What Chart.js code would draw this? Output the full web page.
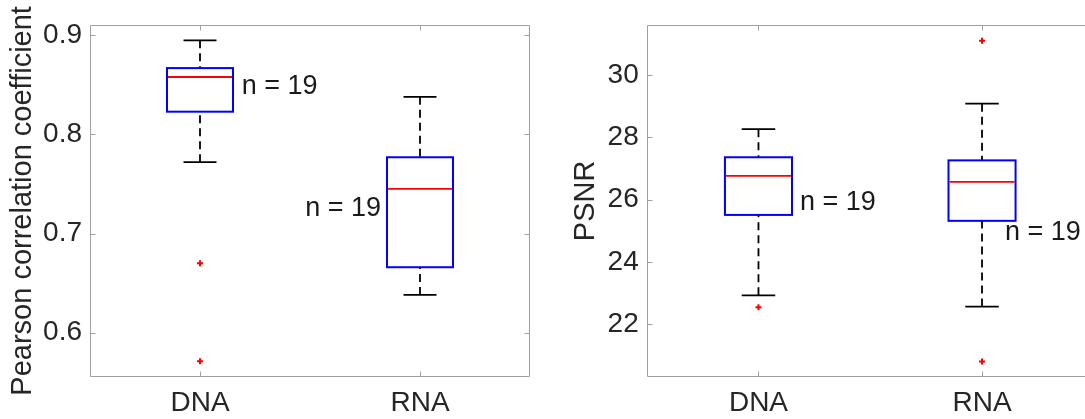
<!DOCTYPE html>
<html>
<head>
<meta charset="utf-8">
<script src="https://cdn.jsdelivr.net/npm/chart.js@4"></script>
<style>
  html, body { margin: 0; padding: 0; background: #fff; overflow: hidden; }
  #wrap { position: relative; width: 1085px; height: 419px; overflow: hidden; }
  canvas { position: absolute; top: 0; }
  #pearsonChart { left: 0; }
  #psnrChart { left: 540px; }
</style>
</head>
<body>
<div id="wrap">
  <canvas id="pearsonChart" width="540" height="419"></canvas>
  <canvas id="psnrChart" width="560" height="419"></canvas>
</div>
<script>
const groups = ["DNA", "RNA"];
const sampleCounts = [19, 19];

// Pearson correlation coefficient, per group
const pearsonLow = [0.772, 0.638];
const pearsonQ1 = [0.823, 0.666];
const pearsonMedian = [0.858, 0.745];
const pearsonQ3 = [0.867, 0.777];
const pearsonHigh = [0.895, 0.838];
const pearsonOutliers = [[0.670, 0.571], []];
const pearsonTicks = [0.6, 0.7, 0.8, 0.9];

// PSNR, per group
const psnrLow = [22.93, 22.57];
const psnrQ1 = [25.51, 25.32];
const psnrMedian = [26.76, 26.57];
const psnrQ3 = [27.36, 27.26];
const psnrHigh = [28.26, 29.08];
const psnrOutliers = [[22.55], [31.10, 20.81]];
const psnrTicks = [22, 24, 26, 28, 30];

const FONT = "'Liberation Sans', Arial, sans-serif";
const TEXT = "#262626";
const FRAME = "#a0a0a0";
const BOX_W = 0.3;
const CAP_W = 0.15;

const boxPlugin = {
  id: "boxes",
  beforeDatasetsDraw(chart, args, opts) {
    const { ctx } = chart;
    const xs = chart.scales.x, ys = chart.scales.y;
    ctx.save();
    opts.median.forEach((med, i) => {
      const pos = i + 1;
      const xc = xs.getPixelForValue(pos);
      const xl = xs.getPixelForValue(pos - BOX_W / 2);
      const xr = xs.getPixelForValue(pos + BOX_W / 2);
      const cl = xs.getPixelForValue(pos - CAP_W / 2);
      const cr = xs.getPixelForValue(pos + CAP_W / 2);
      const yLow = ys.getPixelForValue(opts.low[i]);
      const yQ1 = ys.getPixelForValue(opts.q1[i]);
      const yMed = ys.getPixelForValue(med);
      const yQ3 = ys.getPixelForValue(opts.q3[i]);
      const yHigh = ys.getPixelForValue(opts.high[i]);

      // dashed whiskers
      ctx.strokeStyle = "#000";
      ctx.lineWidth = 1.8;
      ctx.setLineDash([8, 5]);
      ctx.beginPath();
      ctx.moveTo(xc, yHigh); ctx.lineTo(xc, yQ3);
      ctx.moveTo(xc, yLow); ctx.lineTo(xc, yQ1);
      ctx.stroke();
      ctx.setLineDash([]);

      // whisker caps
      ctx.beginPath();
      ctx.moveTo(cl, yHigh); ctx.lineTo(cr, yHigh);
      ctx.moveTo(cl, yLow); ctx.lineTo(cr, yLow);
      ctx.stroke();

      // box
      ctx.strokeStyle = "#0000ff";
      ctx.lineWidth = 2;
      ctx.strokeRect(xl, yQ3, xr - xl, yQ1 - yQ3);

      // median
      ctx.strokeStyle = "#ff0000";
      ctx.lineWidth = 1.8;
      ctx.beginPath();
      ctx.moveTo(xl + 1, yMed); ctx.lineTo(xr - 1, yMed);
      ctx.stroke();
    });
    ctx.restore();
  },
  afterDraw(chart, args, opts) {
    const { ctx, chartArea: a } = chart;
    const xs = chart.scales.x, ys = chart.scales.y;
    const L = Math.round(a.left) + 0.5, R = Math.round(a.right) - 0.5;
    const T = Math.round(a.top) + 0.5, B = Math.round(a.bottom) - 0.5;
    ctx.save();
    ctx.strokeStyle = FRAME;
    ctx.lineWidth = 1;
    ctx.beginPath();
    ctx.rect(L, T, R - L, B - T);
    // inward tick marks on all four sides
    ys.ticks.forEach(t => {
      const py = Math.round(ys.getPixelForValue(t.value)) + 0.5;
      ctx.moveTo(L, py); ctx.lineTo(L + 5, py);
      ctx.moveTo(R, py); ctx.lineTo(R - 5, py);
    });
    xs.ticks.forEach(t => {
      const px = Math.round(xs.getPixelForValue(t.value)) + 0.5;
      ctx.moveTo(px, B); ctx.lineTo(px, B - 5);
      ctx.moveTo(px, T); ctx.lineTo(px, T + 5);
    });
    ctx.stroke();

    // sample count labels
    ctx.fillStyle = "#1a1a1a";
    ctx.font = "27px " + FONT;
    ctx.textBaseline = "middle";
    opts.labels.forEach((lb, i) => {
      ctx.textAlign = lb.align;
      ctx.fillText("n = " + sampleCounts[i], xs.getPixelForValue(lb.x), ys.getPixelForValue(lb.y));
    });
    ctx.restore();
  }
};

function makeChart(id, cfg) {
  const points = [];
  cfg.outliers.forEach((list, i) => list.forEach(v => points.push({ x: i + 1, y: v })));
  return new Chart(document.getElementById(id), {
    type: "scatter",
    data: {
      datasets: [{
        data: points,
        pointStyle: "cross",
        radius: 3,
        borderColor: "#ff0000",
        borderWidth: 2,
        backgroundColor: "#ff0000"
      }]
    },
    options: {
      responsive: false,
      animation: false,
      events: [],
      layout: { padding: { left: 0, top: 22.5, right: cfg.padRight, bottom: 0 } },
      plugins: {
        legend: { display: false },
        tooltip: { enabled: false },
        boxes: {
          low: cfg.low, q1: cfg.q1, median: cfg.median, q3: cfg.q3, high: cfg.high,
          labels: cfg.labels
        }
      },
      scales: {
        x: {
          type: "linear",
          min: 0.5,
          max: 2.5,
          grid: { display: false, drawTicks: false },
          border: { display: false },
          afterBuildTicks: s => { s.ticks = groups.map((g, i) => ({ value: i + 1 })); },
          afterFit: s => { s.height = 42; },
          ticks: {
            autoSkip: false,
            maxRotation: 0,
            padding: 9,
            color: TEXT,
            font: { family: FONT, size: 28 },
            callback: (v, i) => groups[i]
          }
        },
        y: {
          type: "linear",
          min: cfg.yMin,
          max: cfg.yMax,
          grid: { display: false, drawTicks: false },
          border: { display: false },
          afterBuildTicks: s => { s.ticks = cfg.ticks.map(v => ({ value: v })); },
          afterFit: s => { s.width = cfg.axisWidth; },
          ticks: {
            padding: 8,
            color: TEXT,
            font: { family: FONT, size: 28 },
            callback: cfg.fmt
          },
          title: {
            display: true,
            text: cfg.title,
            color: TEXT,
            padding: { top: cfg.titlePad, bottom: 0 },
            font: { family: FONT, size: 29 }
          }
        }
      }
    },
    plugins: [boxPlugin]
  });
}

makeChart("pearsonChart", {
  low: pearsonLow, q1: pearsonQ1, median: pearsonMedian, q3: pearsonQ3, high: pearsonHigh,
  outliers: pearsonOutliers,
  ticks: pearsonTicks,
  fmt: v => v.toFixed(1),
  yMin: 0.5552, yMax: 0.9107,
  title: "Pearson correlation coefficient",
  titlePad: 6,
  axisWidth: 90,
  padRight: 10,
  labels: [
    { x: 1.19, y: 0.848, align: "left" },
    { x: 1.823, y: 0.7248, align: "right" }
  ]
});

makeChart("psnrChart", {
  low: psnrLow, q1: psnrQ1, median: psnrMedian, q3: psnrQ3, high: psnrHigh,
  outliers: psnrOutliers,
  ticks: psnrTicks,
  fmt: v => String(v),
  yMin: 20.31, yMax: 31.61,
  title: "PSNR",
  titlePad: 29,
  axisWidth: 106.7,
  padRight: 6.2,
  labels: [
    { x: 1.186, y: 25.91, align: "left" },
    { x: 2.103, y: 24.96, align: "left" }
  ]
});
</script>
</body>
</html>
